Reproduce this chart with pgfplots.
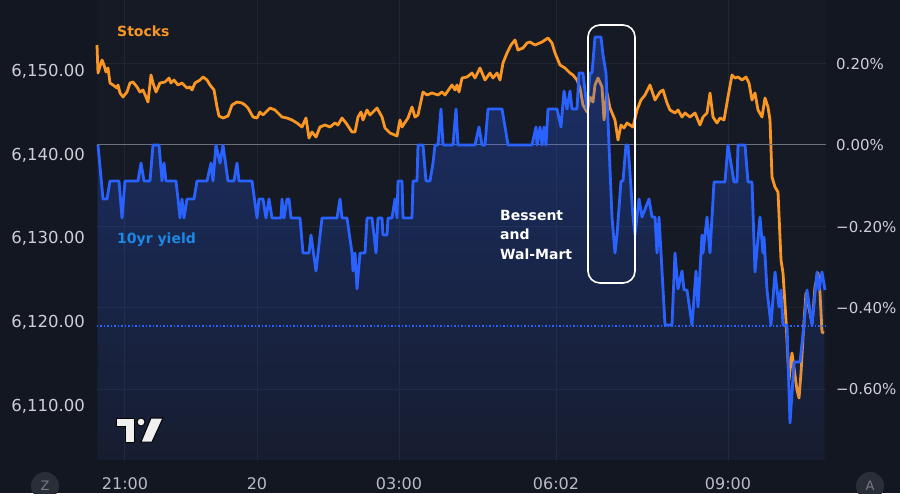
\documentclass[border=0pt]{standalone}
\usepackage{fontspec}
\setmainfont{DejaVu Sans}
\usepackage{pgfplots}
\usepackage{pgfplotstable}
\pgfplotsset{compat=1.18}
\usetikzlibrary{fadings}
\definecolor{outerbg}{RGB}{19,23,34}
\definecolor{plotbg}{RGB}{22,26,37}
\definecolor{gridc}{RGB}{34,38,50}
\definecolor{zeroline}{RGB}{110,113,124}
\definecolor{yblue}{RGB}{41,98,255}
\definecolor{sorange}{RGB}{250,150,35}
\definecolor{lblblue}{RGB}{30,136,229}
\definecolor{ticktxt}{RGB}{205,207,212}
\definecolor{xticktxt}{RGB}{185,188,196}
\definecolor{circbg}{RGB}{42,46,57}
\definecolor{circtxt}{RGB}{120,123,134}
\tikzfading[name=areafade, top color=transparent!68, bottom color=transparent!95]

% pixel-based coordinates: X = horizontal pixel, Y = vertical pixel (from top)
\pgfplotstableread{
X Y
98 145
103 199
107 199
110 181
119 181
122 218
125 181
138 181
141 163
144 181
150 181
153 145
159 145
162 181
164 163
166 181
176 181
178 199
180 218
182 199
184 218
187 199
194 199
197 181
207 181
211 163
213 181
216 145
220 163
223 145
228 181
234 181
237 163
239 181
252 181
257 218
259 199
263 199
266 218
269 199
272 218
281 218
282 199
284 218
287 199
289 199
291 218
300 218
303 253
309 253
311 235
316 271
322 218
337 218
340 199
342 218
347 218
352 253
353 271
355 253
357 289
360 253
365 253
367 218
372 218
376 253
378 218
382 218
383 235
387 235
388 218
392 218
395 199
397 218
398 181
402 181
403 218
412 218
413 181
417 181
418 145
423 145
426 181
430 181
433 163
435 145
438 145
441 109
443 145
453 145
456 109
458 145
475 145
479 127
482 145
485 145
488 109
502 109
505 127
508 145
532 145
536 127
537 145
540 127
542 145
544 127
546 145
548 109
557 109
561 127
564 91
567 109
570 91
572 109
577 109
579 73
583 73
587 109
590 73
592 73
595 37
601 37
603 55
606 73
609 145
612 217
615 253
617 235
621 181
623 181
626 145
628 145
633 217
635 235
639 199
642 217
649 199
652 217
655 217
657 253
659 217
663 289
665 325
672 325
675 253
678 289
682 271
684 290
687 290
692 325
696 271
698 307
702 235
703 253
707 217
710 253
714 182
725 182
728 145
734 182
737 182
738 145
745 145
748 182
752 182
755 272
760 217
763 253
764 237
767 290
771 325
775 272
779 307
781 290
783 325
787 325
790 423
794 362
800 362
804 325
807 290
812 325
817 272
819 290
822 272
825 290
}\yield

\pgfplotstableread{
X Y
97 45
98 73
102 60
104 65
106 72
108 68
110 83
113 85
117 88
118 85
120 93
123 97
127 92
130 83
133 82
137 87
140 92
143 90
146 97
148 102
151 75
153 83
156 92
160 83
165 82
169 78
171 83
174 80
178 85
182 83
187 88
190 87
192 90
195 83
200 80
203 77
207 80
210 85
214 90
217 107
219 116
223 118
228 116
232 105
237 102
242 103
245 105
248 108
253 117
257 118
260 112
263 115
270 108
275 110
278 113
282 117
287 118
292 120
297 123
302 127
306 118
309 138
312 132
316 137
320 127
325 125
330 127
335 123
338 125
342 118
346 123
352 132
355 132
358 117
361 112
363 120
367 110
370 115
377 108
382 117
385 128
390 133
397 136
400 120
402 127
408 118
412 107
415 117
418 115
423 92
427 95
432 93
438 95
442 92
445 95
452 85
455 90
457 85
459 92
462 78
467 77
472 73
475 78
480 68
485 80
490 73
493 78
497 73
500 80
503 63
507 53
511 45
515 40
518 50
523 48
527 43
530 42
535 45
542 42
548 38
552 43
555 53
560 65
565 68
570 73
573 75
577 80
580 88
583 105
587 112
590 97
593 102
595 85
598 78
602 87
604 120
607 93
610 108
615 120
618 140
621 125
624 128
627 123
630 125
633 127
637 110
641 100
645 95
650 85
655 100
660 92
663 90
667 103
670 110
675 113
678 110
682 117
685 113
690 117
695 113
700 125
703 117
707 113
710 93
713 117
717 123
720 118
724 120
728 97
732 75
735 78
738 77
742 80
746 77
749 83
752 100
755 93
758 110
762 117
765 98
768 107
770 120
772 177
775 187
778 192
781 260
783 273
786 320
789 380
792 353
797 390
799 398
801 373
803 337
806 293
808 303
812 323
813 313
815 287
818 273
820 293
822 332
824 333
}\stocks

\begin{document}
\begin{tikzpicture}
\fill[outerbg] (-97pt,-33pt) rectangle (803pt,460pt);
\begin{axis}[
  at={(0pt,0pt)}, anchor=south west,
  x=1pt, y=1pt,
  xmin=97, xmax=826, ymin=0, ymax=460,
  clip=false,
  axis background/.style={fill=plotbg},
  axis line style={draw=none},
  major tick length=0pt,
  xtick={125,257,399,556,728},
  xticklabels={21:00,20,03:00,06:02,09:00},
  ytick={396,315,233,152,71},
  yticklabels={0.20\%,0.00\%,−0.20\%,−0.40\%,−0.60\%},
  yticklabel pos=right,
  xmajorgrids, ymajorgrids,
  grid style={gridc, line width=1pt},
  xticklabel style={font=\fontsize{16}{19}\selectfont, text=xticktxt, anchor=center, inner sep=0pt, yshift=-24pt},
  yticklabel style={font=\fontsize{15}{18}\selectfont, text=ticktxt, anchor=west, inner sep=0pt, xshift=10pt},
]
\addplot[sorange, line width=2.8pt, line join=round, y filter/.expression={460-y}] table[x=X,y=Y]{\stocks};
\addplot[zeroline, line width=1pt] coordinates {(97,315) (826,315)};
\addplot[yblue, line width=1.2pt, dash pattern=on 1.5pt off 2pt] coordinates {(97,134) (826,134)};
\addplot[draw=none, fill=yblue, path fading=areafade, y filter/.expression={460-y}] table[x=X,y=Y]{\yield} \closedcycle;
\addplot[yblue, line width=2.8pt, line join=round, y filter/.expression={460-y}] table[x=X,y=Y]{\yield};

\draw[white, line width=1.6pt, rounded corners=12pt] (axis cs:588,435) rectangle (axis cs:635,177);

\node[anchor=west, text=sorange, font=\bfseries\fontsize{14}{17}\selectfont, inner sep=0pt] at (axis cs:117,429) {Stocks};
\node[anchor=west, text=lblblue, font=\bfseries\fontsize{14}{17}\selectfont, inner sep=0pt] at (axis cs:117,220) {10yr yield};
\node[anchor=west, text=white, font=\bfseries\fontsize{14}{17}\selectfont, inner sep=0pt] at (axis cs:500,245) {Bessent};
\node[anchor=west, text=white, font=\bfseries\fontsize{14}{17}\selectfont, inner sep=0pt] at (axis cs:500,226) {and};
\node[anchor=west, text=white, font=\bfseries\fontsize{14}{17}\selectfont, inner sep=0pt] at (axis cs:500,206) {Wal-Mart};

% TradingView logo
\filldraw[fill={rgb,255:red,240;green,240;blue,240}, draw=black, line width=1pt]
  (axis cs:117,42) -- (axis cs:135,42) -- (axis cs:135,18) -- (axis cs:126,18) -- (axis cs:126,34) -- (axis cs:117,34) -- cycle;
\filldraw[fill={rgb,255:red,240;green,240;blue,240}, draw=black, line width=1pt] (axis cs:141,38) circle[radius=4pt];
\filldraw[fill={rgb,255:red,240;green,240;blue,240}, draw=black, line width=1pt]
  (axis cs:151,42) -- (axis cs:163,42) -- (axis cs:152,18) -- (axis cs:141,18) -- cycle;

% bottom circles
\fill[circbg] (axis cs:45,-26) circle[radius=14pt];
\node[text=circtxt, font=\fontsize{13}{15}\selectfont] at (axis cs:45,-26) {Z};
\fill[circbg] (axis cs:870,-26) circle[radius=14pt];
\node[text=circtxt, font=\fontsize{13}{15}\selectfont] at (axis cs:870,-26) {A};
\end{axis}
\begin{axis}[
  at={(0pt,0pt)}, anchor=south west,
  x=1pt, y=1pt,
  xmin=97, xmax=826, ymin=0, ymax=460,
  axis line style={draw=none},
  major tick length=0pt,
  xtick=\empty,
  ytick={389,305,222,138,54},
  yticklabels={{6,150.00},{6,140.00},{6,130.00},{6,120.00},{6,110.00}},
  yticklabel style={font=\fontsize{16.5}{19}\selectfont, text=ticktxt, anchor=east, inner sep=0pt, xshift=-12pt},
]
\end{axis}
\pgfresetboundingbox
\path (-97pt,-33pt) rectangle (803pt,460pt);
\end{tikzpicture}
\end{document}
